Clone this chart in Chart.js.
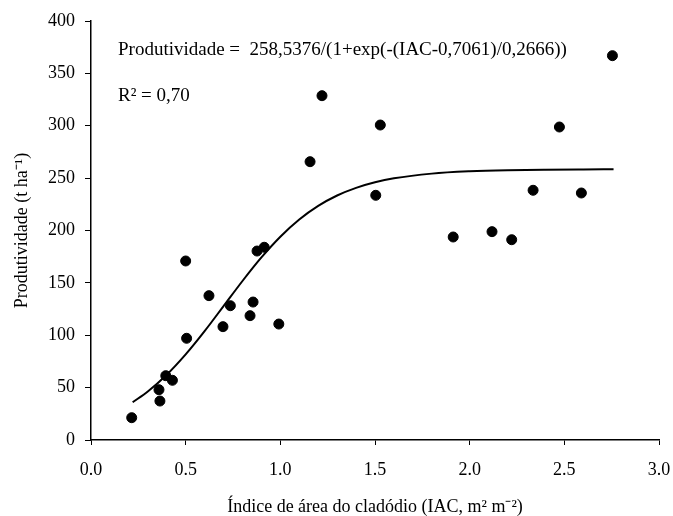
<!DOCTYPE html>
<html lang="pt">
<head>
  <meta charset="UTF-8" />
  <title>Produtividade vs IAC</title>
  <script src="https://cdn.jsdelivr.net/npm/chart.js"></script>
  <style>
    html, body { margin: 0; padding: 0; background: white; }
    #wrap { width: 673px; height: 516px; }
  </style>
</head>
<body>
  <div id="wrap"><canvas id="grafico"></canvas></div>

  <script>
    // observed values (IAC, productivity)
    const iacObs = [0.215, 0.359, 0.364, 0.395, 0.430, 0.500, 0.505, 0.623, 0.697, 0.736, 0.840, 0.856, 0.877, 0.915, 0.992,
                    1.157, 1.220, 1.504, 1.528, 1.913, 2.118, 2.222, 2.335, 2.474, 2.590, 2.754];
    const prodObs = [21.3, 48.0, 37.2, 61.4, 57.0, 170.9, 97.1, 137.8, 108.2, 128.2, 118.7, 131.7, 180.4, 184.0, 110.7,
                     265.7, 328.7, 233.6, 300.7, 193.8, 198.9, 191.2, 238.4, 298.8, 235.8, 366.9];

    // fitted curve
    const iacCurva = [0.22, 0.3, 0.4, 0.5, 0.6, 0.7, 0.8, 0.9, 1.0, 1.1, 1.2, 1.3, 1.4, 1.5, 1.6, 1.8, 2.0, 2.2, 2.4, 2.6, 2.76];
    const prodCurva = [36.0, 46.3, 62.3, 81.7, 103.9, 127.8, 151.8, 174.3, 194.1, 210.5, 223.5, 233.4, 240.7, 246.0, 249.8,
                       254.3, 256.5, 257.6, 258.1, 258.3, 258.4];

    const equacao = 'Produtividade =  258,5376/(1+exp(-(IAC-0,7061)/0,2666))';
    const r2 = 'R² = 0,70';

    const fonte = '"Liberation Serif", "Times New Roman", serif';

    const textos = {
      id: 'textos',
      afterDraw(chart) {
        const ctx = chart.ctx;
        const a = chart.chartArea;
        ctx.save();
        ctx.fillStyle = '#000';
        ctx.font = '19px ' + fonte;
        ctx.textBaseline = 'middle';
        ctx.fillText(equacao, a.left + 27, 50);
        ctx.fillText(r2, a.left + 27, 96);
        ctx.restore();
      }
    };

    new Chart(document.getElementById('grafico'), {
      type: 'scatter',
      data: {
        datasets: [
          {
            type: 'line',
            data: iacCurva.map((x, i) => ({ x, y: prodCurva[i] })),
            borderColor: '#000',
            borderWidth: 2,
            pointRadius: 0,
            cubicInterpolationMode: 'monotone',
            fill: false
          },
          {
            data: iacObs.map((x, i) => ({ x, y: prodObs[i] })),
            backgroundColor: '#000',
            borderColor: '#000',
            pointRadius: 5,
            pointHoverRadius: 5
          }
        ]
      },
      options: {
        responsive: true,
        maintainAspectRatio: false,
        animation: false,
        layout: { padding: { top: 21, right: 14, left: 0, bottom: 0 } },
        plugins: { legend: { display: false }, tooltip: { enabled: false } },
        scales: {
          x: {
            type: 'linear',
            min: 0, max: 3,
            grid: { display: true, drawOnChartArea: false, drawTicks: true, tickLength: 5, color: '#000' },
            border: { display: true, color: '#000', width: 1.5 },
            ticks: {
              stepSize: 0.5,
              color: '#000',
              padding: 14,
              font: { family: fonte, size: 18 },
              callback: v => v.toFixed(1)
            },
            title: {
              display: true,
              text: 'Índice de área do cladódio (IAC, m² m⁻²)',
              color: '#000',
              font: { family: fonte, size: 18, lineHeight: 1 },
              padding: { top: 0, bottom: 0 }
            },
            afterFit: s => { s.height = 76; s.paddingRight = 0; s.paddingLeft = 0; }
          },
          y: {
            min: 0, max: 400,
            grid: { display: true, drawOnChartArea: false, drawTicks: true, tickLength: 6, color: '#000' },
            border: { display: true, color: '#000', width: 1.5 },
            ticks: {
              stepSize: 50,
              color: '#000',
              padding: 10,
              font: { family: fonte, size: 18 }
            },
            title: {
              display: true,
              text: 'Produtividade (t ha⁻¹)',
              color: '#000',
              font: { family: fonte, size: 18 },
              padding: { top: 11, bottom: 0 }
            },
            afterFit: s => { s.width = 91; s.paddingTop = 0; s.paddingBottom = 0; }
          }
        }
      },
      plugins: [textos]
    });
  </script>
</body>
</html>
